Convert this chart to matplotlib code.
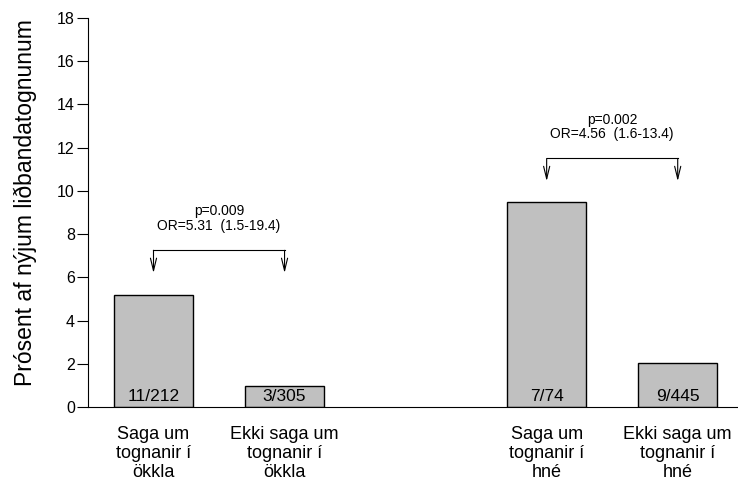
import numpy as np
from matplotlib import pyplot as plt

plt.rcParams['font.family'] = ['Liberation Sans', 'DejaVu Sans']

## DATA
categories = ["Saga um\ntognanir í\nökkla", "Ekki saga um\ntognanir í\nökkla",
              "Saga um\ntognanir í\nhné", "Ekki saga um\ntognanir í\nhné"]
positions = [0, 1, 3, 4]
percent = [5.19, 0.97, 9.48, 2.03]
counts = ["11/212", "3/305", "7/74", "9/445"]

# comparisons: (left bar index, right bar index, bracket height, text)
comparisons = [(0, 1, 7.25, "p=0.009\nOR=5.31  (1.5-19.4)"),
               (2, 3, 11.5, "p=0.002\nOR=4.56  (1.6-13.4)")]

## PLOT
fig = plt.figure(figsize=(7.38, 4.82), dpi=100)
ax = fig.add_axes([0.1192, 0.1556, 0.8808, 0.8071])

ax.bar(positions, percent, width=0.6, color="#c0c0c0", edgecolor="black", linewidth=1.0)

for x, lab in zip(positions, counts):
    ax.text(x, 0.5, lab, ha="center", va="center", fontsize=12.5)

for i, j, h, txt in comparisons:
    x1, x2 = positions[i], positions[j]
    ax.plot([x1, x2], [h, h], color="black", lw=0.8)
    for xx in (x1, x2):
        ax.annotate("", xy=(xx, h - 1.05), xytext=(xx, h),
                    arrowprops=dict(arrowstyle="->,head_length=0.9,head_width=0.22",
                                    lw=0.8, color="black", shrinkA=0, shrinkB=0))
    ax.text((x1 + x2) / 2, h + 0.8, txt, ha="center", va="bottom",
            fontsize=10, linespacing=1.05)

ax.set_xlim(-0.5, 4.46)
ax.set_ylim(0, 18)
ax.set_yticks(np.arange(0, 19, 2))
ax.set_xticks(positions)
ax.set_xticklabels(categories, fontsize=13, linespacing=1.15)
ax.tick_params(axis="x", length=0, pad=14)
ax.tick_params(axis="y", direction="out", length=8, labelsize=11.5, pad=1.5)
ax.set_ylabel("Prósent af nýjum liðbandatognunum", fontsize=16.5)
ax.yaxis.set_label_coords(-0.078, 0.526)

ax.spines["top"].set_visible(False)
ax.spines["right"].set_visible(False)

fig.savefig("out.png", dpi=100)
